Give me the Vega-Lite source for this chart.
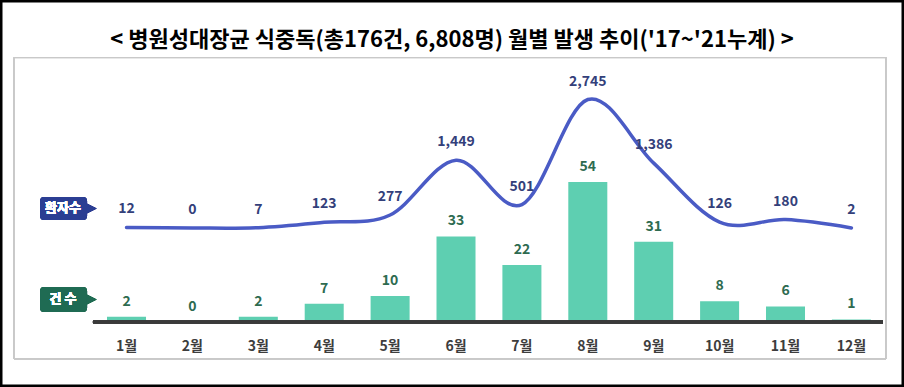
{
  "$schema": "https://vega.github.io/schema/vega-lite/v6.json",
  "width": 904,
  "height": 387,
  "autosize": {"type": "fit", "contains": "padding"},
  "padding": 0,
  "background": "white",
  "config": {
    "view": {"stroke": "black", "strokeWidth": 5},
    "font": "Noto Sans CJK KR"
  },
  "title": {
    "text": "< 병원성대장균 식중독(총176건, 6,808명) 월별 발생 추이('17~'21누계)   >",
    "fontSize": 22,
    "fontWeight": "bold",
    "color": "black",
    "offset": -62,
    "baseline": "middle",
    "anchor": "middle",
    "frame": "group"
  },
  "datasets": {
    "monthly": [
      {"month": "1월", "cases": 2, "patients": 12},
      {"month": "2월", "cases": 0, "patients": 0},
      {"month": "3월", "cases": 2, "patients": 7},
      {"month": "4월", "cases": 7, "patients": 123},
      {"month": "5월", "cases": 10, "patients": 277},
      {"month": "6월", "cases": 33, "patients": 1449},
      {"month": "7월", "cases": 22, "patients": 501},
      {"month": "8월", "cases": 54, "patients": 2745},
      {"month": "9월", "cases": 31, "patients": 1386},
      {"month": "10월", "cases": 8, "patients": 126},
      {"month": "11월", "cases": 6, "patients": 180},
      {"month": "12월", "cases": 1, "patients": 2}
    ]
  },
  "data": {"name": "monthly"},
  "layer": [
    {
      "layer": [
        {
          "mark": {"type": "bar", "color": "#5ECFB1"},
          "encoding": {
            "x": {
              "field": "month",
              "type": "nominal",
              "sort": null,
              "axis": null,
              "scale": {
                "domain": [" ", "1월", "2월", "3월", "4월", "5월", "6월", "7월", "8월", "9월", "10월", "11월", "12월"],
                "paddingInner": 0.408,
                "paddingOuter": 0.563,
                "align": 0.554
              }
            },
            "y": {
              "field": "cases",
              "type": "quantitative",
              "scale": {"domain": [-25.07, 124.2], "nice": false, "zero": false},
              "axis": null
            }
          }
        },
        {
          "mark": {"type": "text", "dy": -15, "fontSize": 14, "fontWeight": "bold", "color": "#2E6B50", "baseline": "middle"},
          "encoding": {
            "x": {"field": "month", "type": "nominal", "sort": null, "axis": null},
            "y": {"field": "cases", "type": "quantitative", "axis": null},
            "text": {"field": "cases", "type": "quantitative"}
          }
        },
        {
          "mark": {"type": "text", "fontSize": 14, "fontWeight": "bold", "color": "#3d3d3d", "baseline": "middle"},
          "encoding": {
            "x": {"field": "month", "type": "nominal", "sort": null, "axis": null},
            "y": {"datum": -9.6, "type": "quantitative", "axis": null},
            "text": {"field": "month", "type": "nominal"}
          }
        },
        {
          "mark": {"type": "rect", "fillOpacity": 0, "fill": "white", "stroke": "#c9c9c9", "strokeWidth": 1},
          "encoding": {
            "x": {"datum": " ", "type": "nominal", "bandPosition": -0.695, "axis": null},
            "x2": {"datum": "12월", "bandPosition": 1.387},
            "y": {"datum": 102.0, "type": "quantitative", "axis": null},
            "y2": {"datum": -14.27}
          }
        },
        {
          "mark": {"type": "rule", "color": "#3a3a3a", "strokeWidth": 2.5},
          "encoding": {
            "x": {"datum": "1월", "type": "nominal", "bandPosition": -0.36, "axis": null},
            "x2": {"datum": "12월", "bandPosition": 1.31},
            "y": {"datum": 0, "type": "quantitative", "axis": null}
          }
        },
        {
          "mark": {"type": "rect", "color": "#1F6B53", "cornerRadius": 4},
          "encoding": {
            "x": {"datum": " ", "type": "nominal", "bandPosition": -0.028, "axis": null},
            "x2": {"datum": " ", "bandPosition": 1.177},
            "y": {"datum": 13.5, "type": "quantitative", "axis": null},
            "y2": {"datum": 3.86}
          }
        },
        {
          "mark": {"type": "point", "filled": true, "opacity": 1, "size": 100, "color": "#1F6B53", "shape": "M-1,-1 L1,0 L-1,1 Z"},
          "encoding": {
            "x": {"datum": " ", "type": "nominal", "bandPosition": 1.29, "axis": null},
            "y": {"datum": 8.68, "type": "quantitative", "axis": null}
          }
        },
        {
          "mark": {"type": "text", "text": "건 수", "fontSize": 13, "fontWeight": "bold", "color": "white", "baseline": "middle", "align": "center"},
          "encoding": {
            "x": {"datum": " ", "type": "nominal", "bandPosition": 0.56, "axis": null},
            "y": {"datum": 8.68, "type": "quantitative", "axis": null}
          }
        }
      ]
    },
    {
      "layer": [
        {
          "mark": {"type": "line", "interpolate": "cardinal", "tension": 0, "strokeWidth": 3.5, "color": "#4A5BC5", "strokeCap": "round"},
          "encoding": {
            "x": {"field": "month", "type": "nominal", "sort": null, "axis": null},
            "y": {
              "field": "patients",
              "type": "quantitative",
              "scale": {"domain": [-3397, 4871], "nice": false, "zero": false},
              "axis": null
            }
          }
        },
        {
          "mark": {"type": "text", "dy": -18, "fontSize": 14, "fontWeight": "bold", "color": "#33407A", "baseline": "middle"},
          "encoding": {
            "x": {"field": "month", "type": "nominal", "sort": null, "axis": null},
            "y": {"field": "patients", "type": "quantitative", "axis": null},
            "text": {"field": "patients", "type": "quantitative", "format": ","}
          }
        },
        {
          "mark": {"type": "rect", "color": "#2B3E93", "cornerRadius": 4},
          "encoding": {
            "x": {"datum": " ", "type": "nominal", "bandPosition": -0.028, "axis": null},
            "x2": {"datum": " ", "bandPosition": 1.177},
            "y": {"datum": 662.3, "type": "quantitative", "axis": null},
            "y2": {"datum": 170.9}
          }
        },
        {
          "mark": {"type": "point", "filled": true, "opacity": 1, "size": 100, "color": "#2B3E93", "shape": "M-1,-1 L1,0 L-1,1 Z"},
          "encoding": {
            "x": {"datum": " ", "type": "nominal", "bandPosition": 1.29, "axis": null},
            "y": {"datum": 416.6, "type": "quantitative", "axis": null}
          }
        },
        {
          "mark": {"type": "text", "text": "환자수", "fontSize": 13, "fontWeight": "bold", "color": "white", "baseline": "middle", "align": "center"},
          "encoding": {
            "x": {"datum": " ", "type": "nominal", "bandPosition": 0.56, "axis": null},
            "y": {"datum": 416.6, "type": "quantitative", "axis": null}
          }
        }
      ]
    }
  ],
  "resolve": {"scale": {"y": "independent"}}
}
